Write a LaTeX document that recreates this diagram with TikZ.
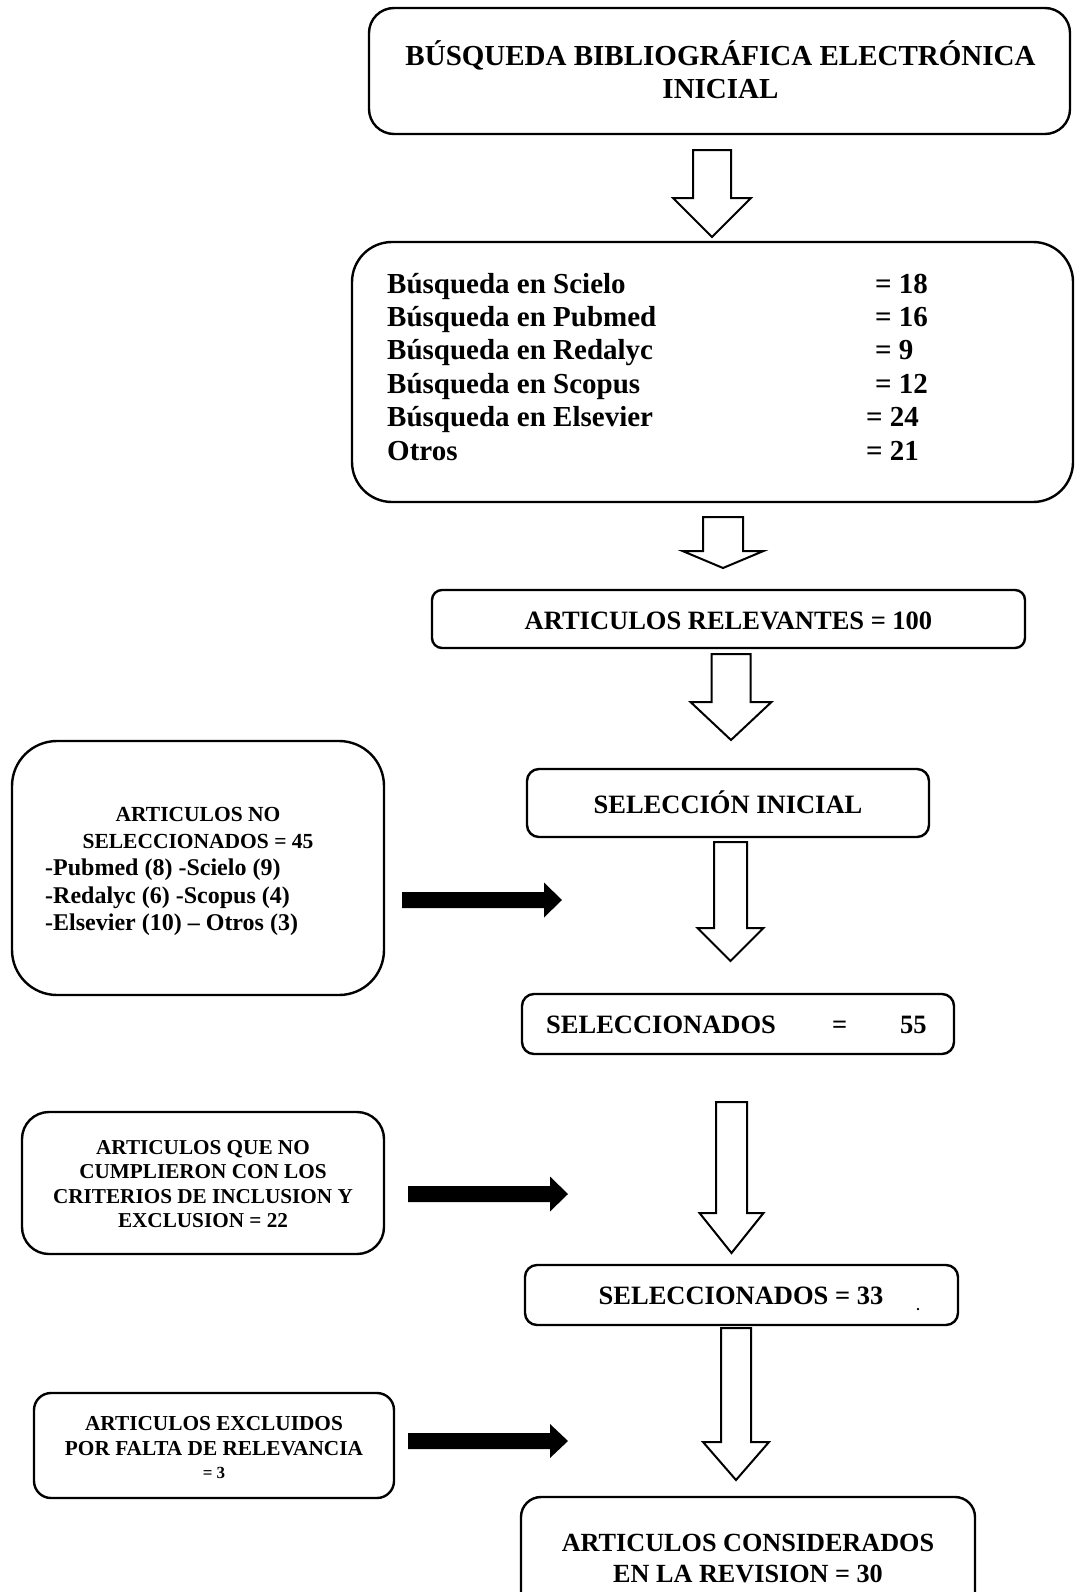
\documentclass[tikz,border=0pt]{standalone}
\usepackage{fontspec}
\setmainfont{Liberation Serif}
\newcommand\hollowarrow[6]{\draw[hollow] (#1-#2,#3) -- (#1+#2,#3) -- (#1+#2,#4) -- (#1+#5,#4) -- (#1,#6) -- (#1-#5,#4) -- (#1-#2,#4) -- cycle;}
\newcommand\blockright[6]{\fill[black] (#1,#4-#5) -- (#2,#4-#5) -- (#2,#4-#6) -- (#3,#4) -- (#2,#4+#6) -- (#2,#4+#5) -- (#1,#4+#5) -- cycle;}
\tikzset{
  box/.style={draw, line width=2.4pt, rounded corners=#1, inner sep=0pt},
  hollow/.style={draw, line width=2pt, fill=white, line join=miter},
  T/.style={inner sep=0pt, anchor=base, font=\bfseries\fontsize{#1}{#1}\selectfont},
  TL/.style={T=#1, anchor=base west},
}
\begin{document}
\begin{tikzpicture}[x=1pt,y=-1pt]
\fill[white] (0,0) rectangle (1074,1592);
\useasboundingbox (0,0) rectangle (1074,1592);

% top box
\node[box=25pt, minimum width=701pt, minimum height=126pt] (b1) at (719.5,71) {};
\node[T=29] (b1a) at (720.5,66) {BÚSQUEDA BIBLIOGRÁFICA ELECTRÓNICA};
\node[T=29] (b1b) at (720.5,99) {INICIAL};

\hollowarrow{712}{19}{150}{198}{39}{237}

% search box
\node[box=40pt, minimum width=721pt, minimum height=260pt] (b2) at (712.5,372) {};
\node[TL=29] (s1) at (387,293) {Búsqueda en Scielo};
\node[TL=29] (s2) at (387,326.4) {Búsqueda en Pubmed};
\node[TL=29] (s3) at (387,359.8) {Búsqueda en Redalyc};
\node[TL=29] (s4) at (387,393.2) {Búsqueda en Scopus};
\node[TL=29] (s5) at (387,426.6) {Búsqueda en Elsevier};
\node[TL=29] (s6) at (387,460) {Otros};
\node[TL=29] (n1) at (875,293) {= 18};
\node[TL=29] (n2) at (875,326.4) {= 16};
\node[TL=29] (n3) at (875,359.8) {= 9};
\node[TL=29] (n4) at (875,393.2) {= 12};
\node[TL=29] (n5) at (866,426.6) {= 24};
\node[TL=29] (n6) at (866,460) {= 21};

\hollowarrow{723}{20}{517}{551}{40.5}{568}

\node[box=10pt, minimum width=593pt, minimum height=58pt] (b3) at (728.5,619) {};
\node[T=26.5] (b3t) at (728.5,629) {ARTICULOS RELEVANTES = 100};

\hollowarrow{731}{19.5}{654}{702}{40.5}{740}

\node[box=12pt, minimum width=402pt, minimum height=68pt] (b4) at (728,803) {};
\node[T=26.5] (b4t) at (728,813) {SELECCIÓN INICIAL};

% left box 1
\node[box=45pt, minimum width=372pt, minimum height=254pt] (l1) at (198,868) {};
\node[T=21.5] (l1a) at (198,821) {ARTICULOS NO};
\node[T=21.5] (l1b) at (198,848) {SELECCIONADOS = 45};
\node[TL=24] (l1c) at (45,875.5) {-Pubmed (8) -Scielo (9)};
\node[TL=24] (l1d) at (45,903) {-Redalyc (6) -Scopus (4)};
\node[TL=24] (l1e) at (45,930.5) {-Elsevier (10) – Otros (3)};

\blockright{402}{544}{562}{900}{8}{17.5}

\hollowarrow{730.5}{16.5}{842}{928}{33}{961}

\node[box=12pt, minimum width=432pt, minimum height=60pt] (b5) at (738,1024) {};
\node[TL=26.5] (b5a) at (546,1033) {SELECCIONADOS};
\node[TL=26.5] (b5b) at (832,1033) {=};
\node[TL=26.5] (b5c) at (900,1033) {55};

% left box 2
\node[box=27pt, minimum width=362pt, minimum height=142pt] (l2) at (203,1183) {};
\node[T=21.2] (l2a) at (203,1154) {ARTICULOS QUE NO};
\node[T=21.2] (l2b) at (203,1178.5) {CUMPLIERON CON LOS};
\node[T=21.2] (l2c) at (203,1203) {CRITERIOS DE INCLUSION Y};
\node[T=21.2] (l2d) at (203,1227.5) {EXCLUSION = 22};

\blockright{408}{550}{568}{1194}{8}{17.5}

\hollowarrow{731.5}{15.5}{1102}{1213}{32}{1253}

\node[box=12pt, minimum width=433pt, minimum height=60pt] (b6) at (741.5,1295) {};
\node[T=26.5] (b6t) at (741,1304) {SELECCIONADOS = 33};
\node[T=14] (dot) at (918,1310) {.};

\hollowarrow{736}{15}{1328}{1442}{33}{1480}

% left box 3
\node[box=17pt, minimum width=360pt, minimum height=105pt] (l3) at (214,1445.5) {};
\node[T=21.3] (l3a) at (214,1430) {ARTICULOS EXCLUIDOS};
\node[T=21.3] (l3b) at (214,1455) {POR FALTA DE RELEVANCIA};
\node[T=17] (l3c) at (214,1478) {= 3};

\blockright{408}{550}{568}{1441}{8}{17}

% final box
\node[box=20pt, minimum width=454pt, minimum height=120pt] (b7) at (748,1557) {};
\node[T=26.2] (b7a) at (748,1551) {ARTICULOS CONSIDERADOS};
\node[T=26.2] (b7b) at (748,1582) {EN LA REVISION = 30};
\end{tikzpicture}
\end{document}
